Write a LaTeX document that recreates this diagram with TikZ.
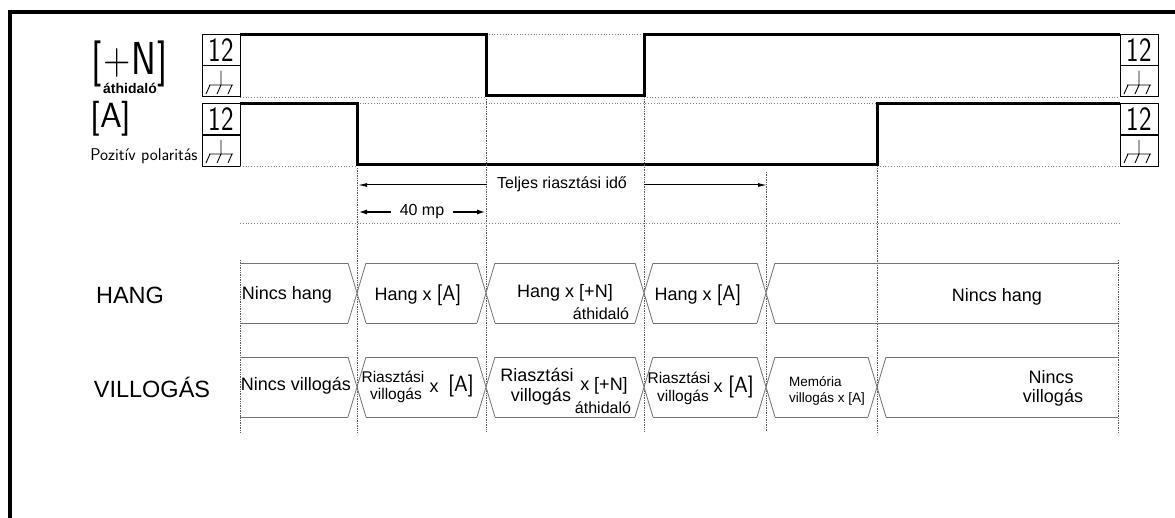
\documentclass[tikz,border=0pt]{standalone}
\usepackage{fontspec}
\setmainfont{Liberation Sans}
\usetikzlibrary{arrows.meta}
\newcommand{\fs}[1]{\fontsize{#1}{#1}\selectfont}
\newcommand{\lt}[2]{{\sffamily\fs{#1}#2}}
\tikzset{
  frame/.style={line width=4pt, line join=miter},
  sig/.style={line width=3pt, line join=miter},
  dotln/.style={dotted, line width=0.8pt, gray},
  vdot/.style={densely dotted, line width=0.7pt, black!65},
  bus/.style={line width=0.8pt, black!55},
  lvlbox/.style={draw, line width=0.7pt, minimum width=38pt, minimum height=31pt, inner sep=0pt},
  txt/.style={inner sep=0pt, font=\fs{18}},
  small/.style={inner sep=0pt, font=\fs{15.5}},
  arr/.style={line width=1pt, -{Latex[length=9pt,width=4pt]}},
  arrb/.style={line width=1.8pt, -{Latex[length=9pt,width=5pt]}}
}
\newcommand{\gnd}[2]{%
  \draw[line width=0.9pt] (#1,#2-11) -- (#1,#2+3)
    (#1-12,#2+3) -- (#1+12,#2+3)
    (#1-11,#2+3) -- (#1-15,#2+12)
    (#1,#2+3) -- (#1-4,#2+12)
    (#1+11,#2+3) -- (#1+7,#2+12);}
\newcommand{\twelve}{\scalebox{0.78}[1]{\lt{34}{12}}}
\begin{document}
\begin{tikzpicture}[x=1pt,y=-1pt]
\useasboundingbox (0,0) rectangle (1175,518);
% frame
\draw[frame] (10,518) -- (10,12) -- (1177,12);

% level boxes
\foreach \xx/\nm in {202/l,1120/r}{
  \node[lvlbox, anchor=north west] (\nm n12) at (\xx,34) {};
  \node[lvlbox, anchor=north west] (\nm ng) at (\xx,65.5) {};
  \node[lvlbox, anchor=north west] (\nm a12) at (\xx,103.5) {};
  \node[lvlbox, anchor=north west] (\nm ag) at (\xx,135) {};
  \node at (\nm n12.center) {\twelve};
  \node at (\nm a12.center) {\twelve};
  \draw[line width=1.6pt] (\nm n12.south west) -- (\nm n12.south east);
}
\gnd{221}{82}\gnd{221}{151}\gnd{1139}{82}\gnd{1139}{151}

% waveforms
\draw[dotln] (240,97) -- (486,97) (644,97) -- (1120,97) (486,34) -- (644,34);
\draw[dotln] (240,166) -- (357,166) (877,166) -- (1120,166) (357,103.5) -- (877,103.5);
\draw[sig] (240,35) -- (486,35) -- (486,96) -- (644,96) -- (644,35) -- (1120,35);
\draw[sig] (240,104) -- (357,104) -- (357,165) -- (877,165) -- (877,104) -- (1120,104);

% left labels
\node[inner sep=0pt] (pnl) at (97,64) {\scalebox{0.85}[1.05]{\lt{44}{[}}};
\node[inner sep=0pt, anchor=base] (pnm) at (130,75) {\scalebox{0.85}[1.05]{\lt{44}{+N}}};
\node[inner sep=0pt] (pnr) at (163,64) {\scalebox{0.85}[1.05]{\lt{44}{]}}};
\node[inner sep=0pt, font=\fs{14}\bfseries] (pnsub) at (130,88.5) {áthidaló};
\node[inner sep=0pt] (pa) at (111,119) {\lt{35}{[A]}};
\node[inner sep=0pt] (pol) at (144,156) {\lt{17}{Pozitív polaritás}};

% vertical dotted lines
\draw[vdot] (357,168) -- (357,432);
\draw[vdot] (486,99) -- (486,432);
\draw[vdot] (644,99) -- (644,432);
\draw[vdot] (766,172) -- (766,432);
\draw[vdot] (877,168) -- (877,432);
\draw[vdot] (240,260) -- (240,432);
\draw[vdot] (1118,260) -- (1118,432);
\draw[dotln] (240,223) -- (1120,223);

% time arrows
\coordinate (t1) at (358,185);
\coordinate (t2) at (487,185);
\coordinate (t3) at (644,185);
\coordinate (t4) at (767,185);
\draw[arr] (t2) -- (t1);
\draw[arr] (t3) -- (t4);
\node[inner sep=0pt, font=\fs{16}] (tl) at (562,184) {Teljes riasztási idő};
\coordinate (m1) at (391,212);
\coordinate (m2) at (358,212);
\coordinate (m3) at (453,212);
\coordinate (m4) at (486,212);
\draw[arrb] (m1) -- (m2);
\draw[arrb] (m3) -- (m4);
\node[inner sep=0pt, font=\fs{16}] (mp) at (422,212) {40 mp};

% bus rows: crossings
\foreach \yt/\yb/\xs in {263/323/{357,486,644,766}, 357/417/{357,486,644,766,877}}{
  \foreach \xc in \xs {
    \draw[bus] (\xc-9,\yt) -- (\xc+9,\yb) (\xc-9,\yb) -- (\xc+9,\yt);
  }
}
% horizontal edges HANG
\foreach \a/\b in {240/348,366/477,495/635,653/757,775/1118}{
  \draw[bus] (\a,263) -- (\b,263) (\a,323) -- (\b,323);
}
% horizontal edges VILLOGAS
\foreach \a/\b in {240/348,366/477,495/635,653/757,775/868,886/1118}{
  \draw[bus] (\a,357) -- (\b,357) (\a,417) -- (\b,417);
}

% row labels
\node[inner sep=0pt, font=\fs{23.5}] (hang) at (130,295) {HANG};
\node[inner sep=0pt, font=\fs{23.5}] (vill) at (152,387) {VILLOGÁS};

% HANG texts
\node[txt] (h1) at (287,295) {Nincs hang};
\node[txt] (h2) at (418,295) {Hang x \lt{21}{[A]}};
\node[txt] (h3) at (565,293) {Hang x [+N]};
\node[inner sep=0pt, font=\fs{16}] (h3s) at (601,314) {áthidaló};
\node[txt] (h4) at (698,295) {Hang x \lt{21}{[A]}};
\node[txt] (h5) at (997,297) {Nincs hang};

% VILLOGAS texts
\node[txt] (v1) at (296,386) {Nincs villogás};
\node[small] (v2a) at (393,377) {Riasztási};
\node[small] (v2b) at (396,395) {villogás};
\node[txt] (v2x) at (434,388) {x};
\node[inner sep=0pt] (v2c) at (461,386) {\lt{22}{[A]}};
\node[txt] (v3a) at (537,375) {Riasztási};
\node[txt] (v3b) at (541,397) {villogás};
\node[txt] (v3c) at (604,386) {x [+N]};
\node[inner sep=0pt, font=\fs{16}] (v3d) at (603,408) {áthidaló};
\node[small] (v4a) at (679,378) {Riasztási};
\node[small] (v4b) at (683,397) {villogás};
\node[txt] (v4x) at (718,388) {x};
\node[inner sep=0pt] (v4c) at (741,387) {\lt{22}{[A]}};
\node[inner sep=0pt, font=\fs{13.5}, anchor=west] (v5a) at (789,382) {Memória};
\node[inner sep=0pt, font=\fs{13.5}, anchor=west] (v5b) at (789,399) {villogás x [A]};
\node[txt] (v6a) at (1051,377) {Nincs};
\node[txt] (v6b) at (1053,398) {villogás};
\end{tikzpicture}
\end{document}
